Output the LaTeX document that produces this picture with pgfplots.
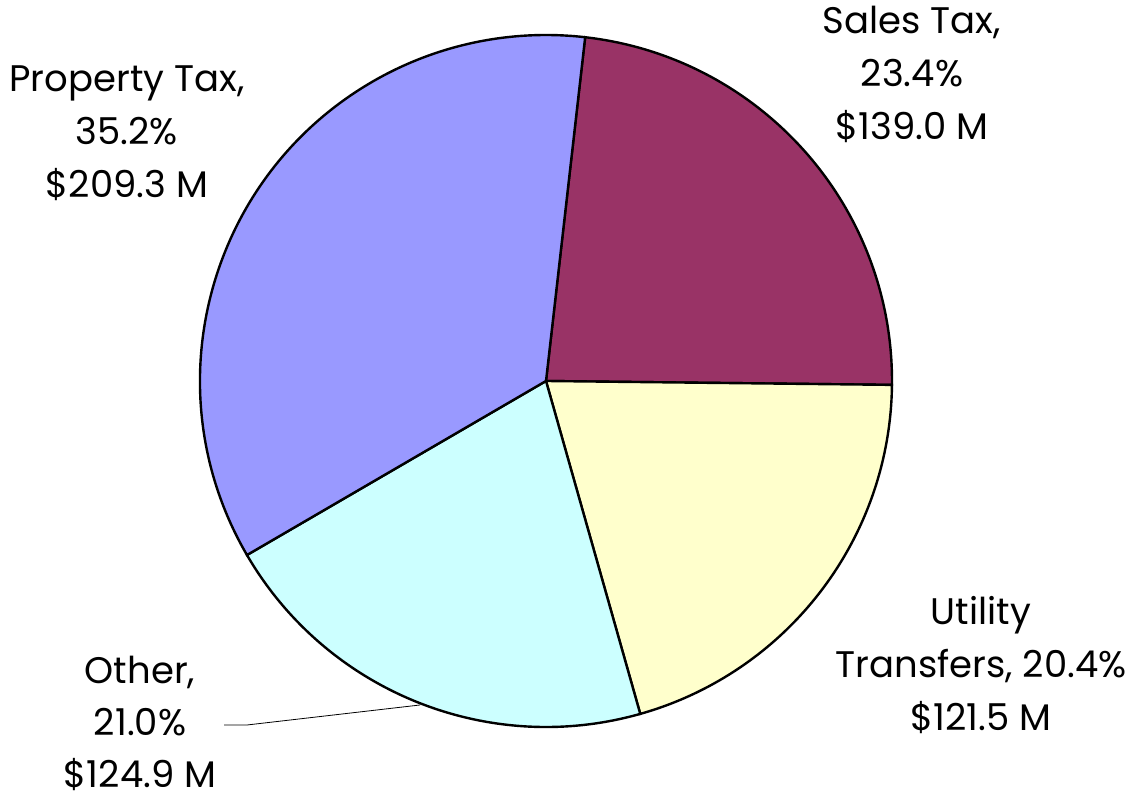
\documentclass[border=0pt]{standalone}
\usepackage{fontspec}
\setmainfont{Poppins}
\usepackage{pgfplots}
\pgfplotsset{compat=1.18}
\definecolor{cProp}{HTML}{9999FF}
\definecolor{cSales}{HTML}{993366}
\definecolor{cUtil}{HTML}{FFFFCC}
\definecolor{cOther}{HTML}{CCFFFF}
\begin{document}
\begin{tikzpicture}
% values ($ M): Sales Tax, Utility Transfers, Other, Property Tax
\def\vSales{139.0}
\def\vUtil{121.5}
\def\vOther{124.9}
\def\vProp{209.3}
\pgfmathsetmacro\tot{\vSales+\vUtil+\vOther+\vProp}
\pgfmathsetmacro\aA{83.5}
\pgfmathsetmacro\aB{\aA-360*(\vSales/\tot)}
\pgfmathsetmacro\aC{\aB-360*(\vUtil/\tot)}
\pgfmathsetmacro\aD{\aC-360*(\vOther/\tot)}
\pgfmathsetmacro\aE{\aD-360*(\vProp/\tot)}
\begin{axis}[name=ax,x=0.5pt,y=0.5pt,xmin=0,xmax=1126,ymin=0,ymax=797,
  hide axis,clip=false,scale only axis]
\addplot[draw=none] coordinates {(0,0) (1126,797)};
\addplot[fill=cSales,draw=black,line width=1.2pt] coordinates {(546,416)} -- ++(\aA:173pt) arc[start angle=\aA,end angle=\aB,radius=173pt] -- cycle;
\addplot[fill=cUtil,draw=black,line width=1.2pt] coordinates {(546,416)} -- ++(\aB:173pt) arc[start angle=\aB,end angle=\aC,radius=173pt] -- cycle;
\addplot[fill=cOther,draw=black,line width=1.2pt] coordinates {(546,416)} -- ++(\aC:173pt) arc[start angle=\aC,end angle=\aD,radius=173pt] -- cycle;
\addplot[fill=cProp,draw=black,line width=1.2pt] coordinates {(546,416)} -- ++(\aD:173pt) arc[start angle=\aD,end angle=\aE,radius=173pt] -- cycle;
\addplot[black,line width=0.4pt] coordinates {(224,72) (247,72) (420,92)};
\node[align=center,font=\fontsize{18.5}{26.5}\selectfont] at (axis cs:127,664) {Property Tax,\\35.2\%\\\$209.3 M};
\node[align=center,font=\fontsize{18.5}{26.5}\selectfont] at (axis cs:912,723) {Sales Tax,\\23.4\%\\\$139.0 M};
\node[align=center,font=\fontsize{18.5}{26.5}\selectfont] at (axis cs:981,132) {Utility\\Transfers, 20.4\%\\\$121.5 M};
\node[align=center,font=\fontsize{18.5}{26}\selectfont] at (axis cs:140,74) {Other,\\21.0\%\\\$124.9 M};
\end{axis}
\pgfresetboundingbox
\path (ax.south west) rectangle (ax.north east);
\end{tikzpicture}
\end{document}
